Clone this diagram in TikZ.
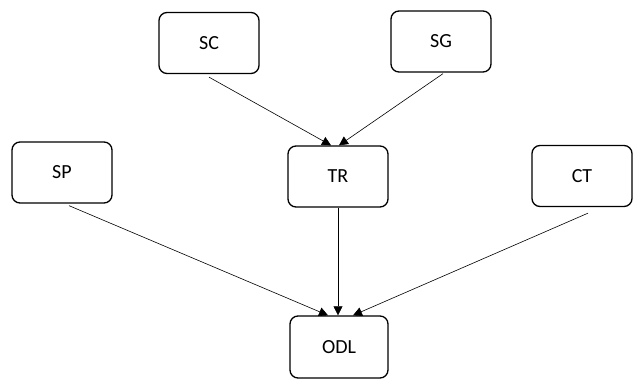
\documentclass[tikz,border=0pt]{standalone}
\usepackage{fontspec}
\setmainfont{Carlito}
\usetikzlibrary{arrows.meta}
\begin{document}
\begin{tikzpicture}[x=1pt,y=1pt,
  box/.style={draw=black,line width=1.3pt,rounded corners=8pt,minimum width=100pt,minimum height=61pt,inner sep=0pt,font=\fontsize{20}{24}\selectfont},
  conn/.style={draw=black,line width=0.6pt,-{Triangle[length=9pt,width=9pt]}}]
\useasboundingbox (0,0) rectangle (640,388);
\node[box] (SC) at (209,345) {SC};
\node[box] (SG) at (441,346.5) {SG};
\node[box] (SP) at (62,215.5) {SP};
\node[box] (TR) at (338,211.5) {TR};
\node[box] (CT) at (582,212) {CT};
\node[box,minimum width=98pt,minimum height=62pt] (ODL) at (339,41) {ODL};
\draw[conn] ([yshift=-3pt]SC.south) -- ([xshift=-7pt]TR.north);
\draw[conn] ([xshift=2pt,yshift=-1pt]SG.south) -- ([xshift=1pt]TR.north);
\draw[conn] ([xshift=7pt,yshift=-2pt]SP.south) -- ([xshift=-11pt]ODL.north);
\draw[conn] (TR.south) -- ([xshift=-1pt]ODL.north);
\draw[conn] ([xshift=6pt,yshift=-6pt]CT.south) -- ([xshift=14pt]ODL.north);
\end{tikzpicture}
\end{document}
